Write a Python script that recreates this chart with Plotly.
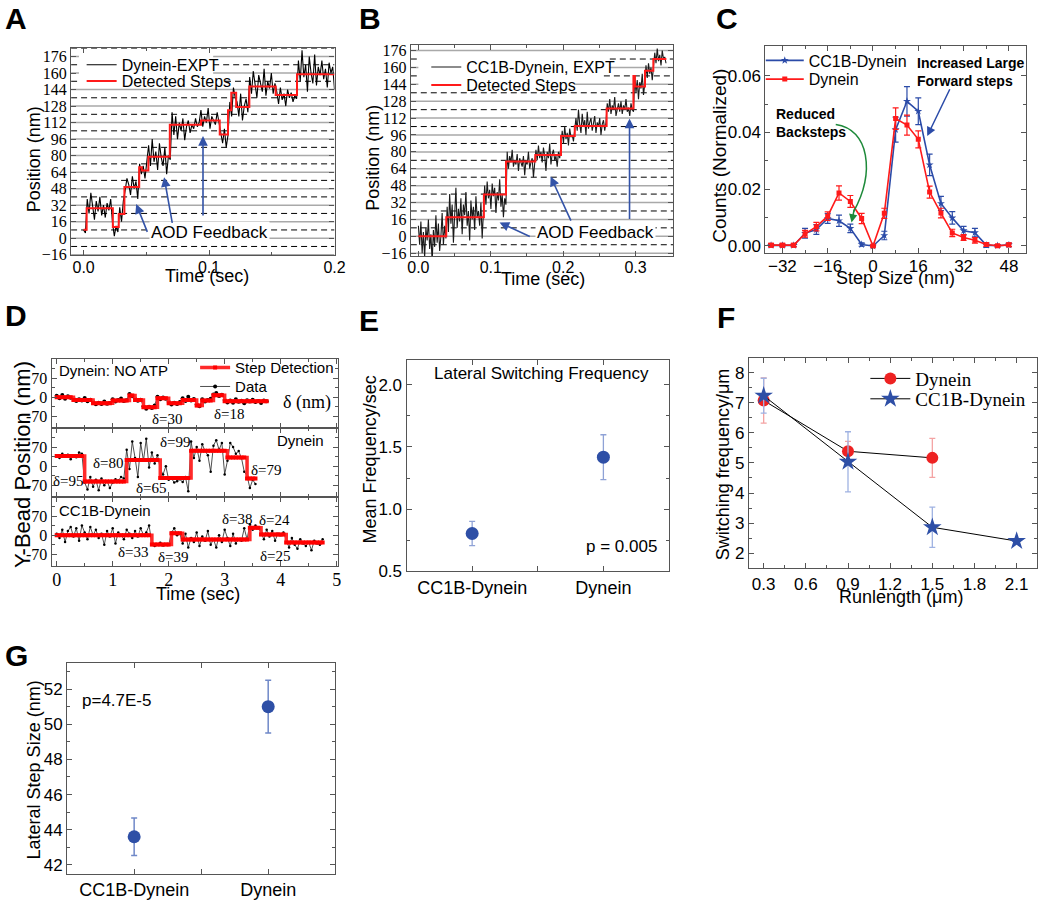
import bisect
import numpy as np
import plotly.graph_objects as go

W, H = 1050, 909
SANS = "Liberation Sans"
SERIF = "Liberation Serif"
RED = "#FF1A1A"
BLUE = "#2B4BA8"
ARROW_BLUE = "#3353A8"
GREEN = "#1E8A3A"

# ---------------- Panel A : Dynein trace ----------------
A_pos = [8, 5,
         38, 24, 44, 30, 18, 36, 26, 40, 22, 32, 20, 34, 27, 38,
         15, 2, 12, 6,
         30, 16, 36,
         46, 58, 52, 42, 60, 48, 55, 38,
         72, 62, 70, 58, 74,
         90, 70, 96, 74, 84, 66, 92, 78, 70, 88, 62, 80, 76,
         122, 100, 118, 96, 112, 104, 116, 95, 108, 114, 102, 110, 106, 116, 108, 112,
         124, 108, 118, 112, 126, 106, 118, 114, 110, 122, 112,
         102, 92, 106, 88, 100,
         132, 118,
         146, 136,
         132, 118, 140, 114, 128, 135, 122,
         156, 140, 162, 146, 136, 158, 150, 142, 164, 138, 152, 145, 160, 140, 150,
         142, 130, 146, 134, 140, 128, 144, 136, 141, 132, 138, 135,
         172, 152, 182, 156, 168, 142, 176, 160, 150, 178, 148, 166, 158, 172, 154, 164, 146, 170, 160, 166, 144]
A_t_end = 0.2
A_step_t = [0, 0.0024, 0.0233, 0.028, 0.0325, 0.0443, 0.0464, 0.0516, 0.0687, 0.0936,
            0.1085, 0.1151, 0.1177, 0.1216, 0.1321, 0.1531, 0.1701, 0.2]
A_step_v = [8.3, 29, 10.8, 23.5, 49.6, 68.7, 65.5, 78.9, 110, 114, 100.5, 124, 141, 127,
            147, 138.7, 158.7]

# ---------------- Panel B : CC1B-Dynein trace ----------------
B_pos = [10, -8, 14, -16, 4, -20, 8, -4, 16, -12, 2, -24, 6, -10, 20, -6, 12, -14, 0, 22, -8, 10, -2,
         28, 4, 40, 12, 30, -6, 22, 46, 8, 26, 14, 36, 2, 30, 20, 42, 10, 24, -4, 34, 16, 28, 6, 38, 18, 24, 10, 32, -2, 22,
         48, 30, 52, 36, 44, 26, 50, 38, 46, 22, 42, 34, 54, 28, 40, 18, 36, 30,
         80, 64, 76, 70, 82, 66, 72, 68, 78, 62, 74, 70, 66, 76, 58, 72, 68, 80, 64, 70, 74, 56, 72,
         82, 72, 86, 74, 80, 70, 84, 76, 62, 80, 74, 88, 68, 78, 82, 72, 76, 66, 80, 74, 84,
         100, 88, 104, 92, 98, 86, 102, 94, 96, 90, 100,
         112, 100, 120, 106, 98, 116, 104, 110, 96, 118, 102, 108, 112, 100, 106, 114, 98, 108, 104, 112, 96, 106, 110, 100, 108,
         126, 118, 130, 116, 124, 120, 132, 114, 122, 126, 118, 128, 116, 124, 120, 130, 118, 122, 114, 126, 120, 118,
         152, 136, 148, 130, 146, 140, 154, 134, 144,
         162, 150, 164, 154, 160, 148, 158,
         174, 164, 178, 166, 172, 162, 176, 168, 170, 164]
B_t_end = 0.342
B_step_t = [0, 0.0385, 0.0905, 0.121, 0.1615, 0.197, 0.216, 0.26, 0.297, 0.299, 0.313, 0.3245, 0.3425]
B_step_v = [0, 18, 39.6, 71, 77, 95, 104.5, 121, 152, 142, 157, 168]

# ---------------- Panel C : step size histogram ----------------
C_step = [-36, -32, -28, -24, -20, -16, -12, -8, -4, 0, 4, 8, 12, 16, 20, 24, 28, 32, 36, 40, 44, 48]
C_dyn = [0.0003, 0.0003, 0.0003, 0.0043, 0.0068, 0.0105, 0.0187, 0.0157, 0.0097, 0.0, 0.0115,
         0.0449, 0.0426, 0.0376, 0.019, 0.0116, 0.0046, 0.003, 0.002, 0.0005, 0.0001, 0.0004]
C_dyn_err = [0.0006, 0.0006, 0.0006, 0.0012, 0.0015, 0.0015, 0.0025, 0.0021, 0.0018, 0.0003, 0.0018,
             0.0038, 0.0035, 0.003, 0.0021, 0.0017, 0.0013, 0.001, 0.001, 0.0006, 0.0004, 0.0006]
C_cc1b = [0.0002, 0.0002, 0.0002, 0.0045, 0.0058, 0.0097, 0.0089, 0.0062, 0.0005, 0.0, 0.0037,
          0.041, 0.051, 0.0475, 0.0286, 0.015, 0.0099, 0.0054, 0.0047, 0.0003, 0.0001, 0.0004]
C_cc1b_err = [0.0004, 0.0004, 0.0004, 0.0017, 0.0017, 0.0017, 0.002, 0.0015, 0.0006, 0.0003, 0.0015,
              0.0044, 0.0052, 0.0047, 0.0038, 0.0025, 0.0022, 0.0015, 0.0015, 0.0008, 0.0004, 0.0006]

# ---------------- Panel D : lateral traces ----------------
D_dt = 0.05
D1_pos = [5, -4, 8, -6, 3, -2, -5, -14, -8, -12, -3, -15, -9, -18, -26, -20, -25, -16, -24, -21,
          -8, -16, -10, -5, -14, -11, 12, 3, -6, -13, -9, -33, -42, -35, -40, -30, 2, -8, -1, -6,
          -17, -27, -20, -25, -18, -4, -14, 2, -12, -7, -27, -33, -8, -16, -10, -6, 10, 15, 4, 9,
          -10, -19, -12, -20, -8, -17, -13, -22, -11, -16, -9, -18, -14, -21, -12, -15]
D1_edges = [0, 0.276, 0.628, 0.98, 1.273, 1.39, 1.508, 1.80, 1.98, 2.21, 2.48, 2.59, 2.80, 2.975, 3.77]
D1_levels = [0, -10, -22, -12, 6, -10, -37, -4, -22, -10, -30, -12, 7, -15]

D2_pos = [40, 30, 45, 35, 42, 25, 38, 33, 50, 45, -60, -85, -40, -75, -50, -88, -45, -70, -55, -80,
          -60, -48, -52, -40, -45, 60, -10, 90, 30, -40, 85, 20, 100, -5, 50, 10, 40, -10, -30, 0,
          -50, -45, -60, -55, -48, -58, -40, -92, 90, 30, 70, 20, 80, 55, 40, -20, 75, 95, 60, 85,
          -30, 20, 85, 70, 45, 55, 30, -20, -35, -80, -50, -65]
D2_edges = [0, 0.481, 1.227, 1.831, 2.359, 3.005, 3.374, 3.56]
D2_levels = [37, -56, 23, -43, 56, 32, -45]

D3_pos = [5, -10, 20, -25, 15, 30, -5, 25, -20, 35, 10, -15, 30, 0, 20, -10, 5, -35, 15, -5,
          25, -30, 10, 0, -15, 20, 5, -10, 15, -5, 25, 0, 10, 35, -30, -40, -35, -28, -38, -32,
          -36, 10, 25, 0, 5, -30, 5, -45, -10, -25, 10, -40, -5, -20, 15, -35, -15, -45, 0, -25,
          20, -10, -40, 5, -30, -15, -20, 25, -15, 40, 20, 35, 25, 10, -15, 20, -5, 15, -20, 5,
          0, 10, -20, -45, -10, -35, -50, -15, -30, -40, -25, -55, -20, -30, -35, -15]
D3_edges = [0, 1.667, 2.025, 2.212, 3.415, 3.609, 4.10, 4.77]
D3_levels = [0, -34, 7, -16, 27, 2, -27]

# ---------------- Panel E : switching frequency ----------------
E_groups = ["CC1B-Dynein", "Dynein"]
E_mean = [0.805, 1.418]
E_err = [0.097, 0.18]

# ---------------- Panel F : switching vs runlength ----------------
F_run_dyn = [0.3, 0.9, 1.5]
F_dyn = [7.08, 5.39, 5.17]
F_dyn_err = [0.75, 0.33, 0.65]
F_run_cc1b = [0.3, 0.9, 1.5, 2.1]
F_cc1b = [7.24, 5.04, 2.86, 2.40]
F_cc1b_err = [0.58, 1.0, 0.67, 0.05]

# ---------------- Panel G : lateral step size ----------------
G_groups = ["CC1B-Dynein", "Dynein"]
G_mean = [43.6, 51.0]
G_err = [1.07, 1.5]

# axis ranges
A_xr, A_yr = [-0.01, 0.2], [-16.6, 183.9]
B_xr, B_yr = [-0.0105, 0.352], [-18.7, 181.2]
grid16 = list(range(-16, 177, 16))
grid8 = list(range(-8, 185, 16))


# ================= helpers =================
def X(px):
    return px / W


def Y(py):
    return 1 - py / H


def dom_x(x0, x1):
    return [x0 / W, x1 / W]


def dom_y(y0, y1):
    return [1 - y1 / H, 1 - y0 / H]


def step_fit(times, edges, levels):
    out = []
    for t in times:
        i = bisect.bisect_right(edges, t + 1e-9) - 1
        i = max(0, min(i, len(levels) - 1))
        out.append(levels[i])
    return out


def axis(**kw):
    base = dict(showline=True, linecolor="#555", linewidth=1.2, mirror="ticks",
                ticks="inside", ticklen=5, tickwidth=1, tickcolor="#555",
                zeroline=False, showgrid=False, fixedrange=True)
    base.update(kw)
    return base


fig = go.Figure()

# ---- A traces
A_t = np.linspace(0, A_t_end, len(A_pos))
fig.add_trace(go.Scatter(x=A_t, y=A_pos, mode="lines", line=dict(color="black", width=1.1),
                         name="Dynein-EXPT", legend="legend", xaxis="x", yaxis="y"))
fig.add_trace(go.Scatter(x=A_step_t, y=A_step_v + [A_step_v[-1]], mode="lines", line_shape="hv",
                         line=dict(color=RED, width=2), name="Detected Steps", legend="legend2",
                         xaxis="x", yaxis="y"))
# ---- B traces
B_t = np.linspace(0, B_t_end, len(B_pos))
fig.add_trace(go.Scatter(x=B_t, y=B_pos, mode="lines", line=dict(color="#1a1a1a", width=1.1),
                         name="CC1B-Dynein, EXPT", legend="legend3", xaxis="x2", yaxis="y2"))
fig.add_trace(go.Scatter(x=B_step_t, y=B_step_v + [B_step_v[-1]], mode="lines", line_shape="hv",
                         line=dict(color=RED, width=2), name="Detected Steps", legend="legend4",
                         xaxis="x2", yaxis="y2"))
# ---- C traces
fig.add_trace(go.Scatter(x=C_step, y=C_cc1b, mode="lines+markers",
                         line=dict(color=BLUE, width=1.6), marker=dict(symbol="star", size=6, color=BLUE),
                         error_y=dict(type="data", array=C_cc1b_err, color=BLUE, thickness=1.2, width=3),
                         name="CC1B-Dynein", legend="legend5", xaxis="x3", yaxis="y3"))
fig.add_trace(go.Scatter(x=C_step, y=C_dyn, mode="lines+markers",
                         line=dict(color=RED, width=1.6), marker=dict(symbol="square", size=5, color=RED),
                         error_y=dict(type="data", array=C_dyn_err, color=RED, thickness=1.2, width=3),
                         name="Dynein", legend="legend6", xaxis="x3", yaxis="y3"))
# ---- D traces
for k, (pos, edges, levels, xa, ya) in enumerate([
        (D1_pos, D1_edges, D1_levels, "x4", "y4"),
        (D2_pos, D2_edges, D2_levels, "x5", "y5"),
        (D3_pos, D3_edges, D3_levels, "x6", "y6")]):
    t = np.round(np.arange(len(pos)) * D_dt, 4)
    fit = step_fit(t, edges, levels)
    fig.add_trace(go.Scatter(x=t, y=pos, mode="lines+markers",
                             line=dict(color="#222", width=0.8),
                             marker=dict(size=4 if k == 0 else 2.5, color="black"),
                             name="Data", legend="legend8", showlegend=(k == 0),
                             xaxis=xa, yaxis=ya))
    fig.add_trace(go.Scatter(x=t, y=fit, mode="lines+markers", line_shape="hv",
                             line=dict(color="#FF2A2A", width=3.5),
                             marker=dict(symbol="square", size=4, color="#FF0000"),
                             name="Step Detection", legend="legend7", showlegend=(k == 0),
                             xaxis=xa, yaxis=ya))
# ---- E
fig.add_trace(go.Scatter(x=[0, 1], y=E_mean, mode="markers",
                         marker=dict(size=13, color="#2E4FA6"),
                         error_y=dict(type="data", array=E_err, color="#8FA2D6", thickness=1.3, width=3),
                         showlegend=False, xaxis="x7", yaxis="y7"))
# ---- F
fig.add_trace(go.Scatter(x=F_run_dyn, y=F_dyn, mode="lines+markers",
                         line=dict(color="black", width=1),
                         marker=dict(symbol="circle", size=12, color="#EE2222"),
                         error_y=dict(type="data", array=F_dyn_err, color="#F4A3A3", thickness=1.3, width=3),
                         name="Dynein", legend="legend9", xaxis="x8", yaxis="y8"))
fig.add_trace(go.Scatter(x=F_run_cc1b, y=F_cc1b, mode="lines+markers",
                         line=dict(color="black", width=1),
                         marker=dict(symbol="star", size=14, color="#2E4FA6"),
                         error_y=dict(type="data", array=F_cc1b_err, color="#9FB2E2", thickness=1.3, width=3),
                         name="CC1B-Dynein", legend="legend10", xaxis="x8", yaxis="y8"))
# ---- G
fig.add_trace(go.Scatter(x=[0, 1], y=G_mean, mode="markers",
                         marker=dict(size=13, color="#2E4FA6"),
                         error_y=dict(type="data", array=G_err, color="#6F88C8", thickness=1.5, width=3),
                         showlegend=False, xaxis="x9", yaxis="y9"))

# ================= axes =================
tf_serif16 = dict(family=SERIF, size=16, color="black")
tf_sans16 = dict(family=SANS, size=16, color="black")
tf_sans17 = dict(family=SANS, size=17, color="black")

lay = dict(
    xaxis=axis(domain=dom_x(69, 336), range=A_xr, tickvals=[0, 0.1, 0.2],
               ticktext=["0.0", "0.1", "0.2"], tickfont=tf_sans16, anchor="y", ticklabelstandoff=-3,
               minor=dict(tickvals=[0.05, 0.15], ticks="inside", ticklen=3, tickcolor="#555")),
    yaxis=axis(domain=dom_y(46, 256), range=A_yr, tickvals=grid16, tickfont=tf_serif16, anchor="x"),
    xaxis2=axis(domain=dom_x(413.3, 679.3), range=B_xr, tickvals=[0, 0.1, 0.2, 0.3],
                ticktext=["0.0", "0.1", "0.2", "0.3"], tickfont=tf_sans16, anchor="y2", ticklabelstandoff=-3,
                minor=dict(tickvals=[0.05, 0.15, 0.25], ticks="inside", ticklen=3, tickcolor="#555")),
    yaxis2=axis(domain=dom_y(42.7, 256.7), range=B_yr, tickvals=grid16, tickfont=tf_serif16, anchor="x2"),
    xaxis3=axis(domain=dom_x(772.7, 1036.7), range=[-38, 54], tickvals=[-32, -16, 0, 16, 32, 48],
                tickfont=tf_sans17, anchor="y3", ticklabelstandoff=-3,
                minor=dict(tickvals=[-24, -8, 8, 24, 40], ticks="inside", ticklen=3, tickcolor="#555")),
    yaxis3=axis(domain=dom_y(43.3, 254), range=[-0.0026, 0.0706], tickvals=[0, 0.02, 0.04, 0.06],
                ticktext=["0.00", "0.02", "0.04", "0.06"], tickfont=tf_sans17, anchor="x3",
                minor=dict(tickvals=[0.01, 0.03, 0.05], ticks="inside", ticklen=3, tickcolor="#555")),
)
d_rows = [(361, 431), (431, 501), (501, 571)]
for i, (y0, y1) in enumerate(d_rows):
    n = 4 + i
    lay[f"xaxis{n}"] = axis(domain=dom_x(49.3, 339.3), range=[-0.09, 5.02], tickvals=[0, 1, 2, 3, 4, 5],
                            showticklabels=(i == 2), tickfont=dict(family=SERIF, size=18, color="black"),
                            anchor=f"y{n}", ticklabelstandoff=-3,
                            minor=dict(tickvals=[0.5, 1.5, 2.5, 3.5, 4.5], ticks="inside", ticklen=3,
                                       tickcolor="#555"))
    lay[f"yaxis{n}"] = axis(domain=dom_y(y0, y1), range=[-112, 140], tickvals=[-70, 0, 70],
                            ticktext=["-70", "0", "70"], tickfont=dict(family=SERIF, size=16, color="black"),
                            anchor=f"x{n}",
                            minor=dict(tickvals=[-35, 35, 105], ticks="inside", ticklen=3, tickcolor="#555"))
lay["xaxis7"] = axis(domain=dom_x(409, 675), range=[-0.5, 1.5], tickvals=[0, 1], ticktext=E_groups,
                     tickfont=dict(family=SANS, size=18, color="black"), anchor="y7",
                     minor=dict(tickvals=[0.5], ticks="inside", ticklen=5, tickcolor="#555"))
lay["yaxis7"] = axis(domain=dom_y(362, 576.7), range=[0.5, 2.2], tickvals=[0.5, 1.0, 1.5, 2.0],
                     ticktext=["0.5", "1.0", "1.5", "2.0"], tickfont=tf_sans17, anchor="x7",
                     minor=dict(tickvals=[0.75, 1.25, 1.75], ticks="inside", ticklen=3, tickcolor="#555"))
lay["xaxis8"] = axis(domain=dom_x(756, 1048), range=[0.195, 2.245],
                     tickvals=[0.3, 0.6, 0.9, 1.2, 1.5, 1.8, 2.1],
                     ticktext=["0.3", "0.6", "0.9", "1.2", "1.5", "1.8", "2.1"], tickfont=tf_sans17,
                     anchor="y8",
                     minor=dict(tickvals=[0.45, 0.75, 1.05, 1.35, 1.65, 1.95], ticks="inside", ticklen=3,
                                tickcolor="#555"))
lay["yaxis8"] = axis(domain=dom_y(360, 573.3), range=[1.5, 8.5], tickvals=[2, 3, 4, 5, 6, 7, 8],
                     tickfont=tf_sans17, anchor="x8",
                     minor=dict(tickvals=[2.5, 3.5, 4.5, 5.5, 6.5, 7.5], ticks="inside", ticklen=3,
                                tickcolor="#555"))
lay["xaxis9"] = axis(domain=dom_x(65, 336.7), range=[-0.5, 1.5], tickvals=[0, 1], ticktext=G_groups,
                     tickfont=dict(family=SANS, size=18, color="black"), anchor="y9",
                     minor=dict(tickvals=[0.5], ticks="inside", ticklen=5, tickcolor="#555"))
lay["yaxis9"] = axis(domain=dom_y(669.3, 883.3), range=[41.5, 53.5], tickvals=[42, 44, 46, 48, 50, 52],
                     tickfont=tf_sans17, anchor="x9",
                     minor=dict(tickvals=[43, 45, 47, 49, 51, 53], ticks="inside", ticklen=3, tickcolor="#555"))


# ================= legends =================
def leg(text_x, cy, size, family=SANS, iw=30):
    return dict(x=(text_x - iw - 12) / W, y=1 - cy / H, xanchor="left", yanchor="middle",
                bgcolor="rgba(0,0,0,0)", borderwidth=0, itemwidth=iw,
                font=dict(family=family, size=size, color="black"))


lay["legend"] = leg(121.7, 62.7, 16)
lay["legend2"] = leg(121.7, 79.3, 16)
lay["legend3"] = leg(471, 65, 16)
lay["legend4"] = leg(471, 83.3, 16)
lay["legend5"] = leg(818, 58.3, 16, iw=38)
lay["legend6"] = leg(818, 77.3, 16, iw=38)
lay["legend7"] = leg(236.7, 370, 15)
lay["legend8"] = leg(236.7, 389.3, 15)
lay["legend9"] = leg(926, 381, 19, SERIF, iw=40)
lay["legend10"] = leg(926, 401.7, 19, SERIF, iw=40)

# ================= annotations =================
ann = []


def text(t, x, y, size, family=SANS, angle=0, xanchor="center", bg=None, align="center"):
    d = dict(text=t, x=X(x), y=Y(y), xref="paper", yref="paper", showarrow=False,
             xanchor=xanchor, yanchor="middle", textangle=angle, align=align,
             font=dict(family=family, size=size, color="black"))
    if bg:
        d["bgcolor"] = bg
    ann.append(d)


def arrow(tip, tail, color=ARROW_BLUE, width=1.6, size=1.2):
    ann.append(dict(text="", x=X(tip[0]), y=Y(tip[1]), xref="paper", yref="paper",
                    ax=tail[0] - tip[0], ay=tail[1] - tip[1], showarrow=True, arrowhead=2,
                    arrowsize=size, arrowwidth=width, arrowcolor=color, standoff=0))


# panel letters
for L, x, y in [("A", 13.5, 16), ("B", 371.5, 16), ("C", 734, 16), ("D", 13.5, 317),
                ("E", 371, 322), ("F", 732.5, 319), ("G", 13.5, 662)]:
    text(f"<b>{L}</b>", x, y, 30)

# A
text("Position (nm)", 31.7, 158.3, 18, angle=-90)
text("Time (sec)", 206.7, 277, 18)
text("AOD Feedback", 209, 233, 17, bg="white")
arrow((135, 204), (146.7, 233.3))
arrow((163.3, 176.7), (171.7, 224))
arrow((202.7, 135), (202.7, 216))
# B
text("Position (nm)", 375, 157, 18, angle=-90)
text("Time (sec)", 547.5, 280, 18)
text("AOD Feedback", 601, 233.3, 17, bg="white")
arrow((503.3, 222.7), (535, 237.3))
arrow((555, 176), (576, 221.7))
arrow((635, 117.3), (635, 219.3))
# C
text("Counts (Normalized)", 726.7, 155, 19, angle=-90)
text("Step Size (nm)", 905, 278.5, 18)
text("<b>Reduced<br>Backsteps</b>", 781.7, 121.3, 14, xanchor="left", align="left")
text("<b>Increased Large<br>Forward steps</b>", 924, 70.5, 14, xanchor="left", align="left")
arrow((936.7, 135), (960, 86.7), color=BLUE, width=1.5)
arrow((860, 222.7), (863, 208), color=GREEN, width=1.5, size=1.1)
# D
text("Y-Bead Position (nm)", 20, 468, 22, angle=-90)
text("Time (sec)", 198, 600, 18)
text("Dynein: NO ATP", 111.7, 372.7, 15)
text("δ (nm)", 308.3, 405, 18, family=SERIF)
text("Dynein", 301.7, 444, 15)
text("CC1B-Dynein", 103, 515, 15)
for s, x, y in [("δ=30", 166.7, 421.7), ("δ=18", 230, 416.7), ("δ=80", 106.7, 466.7),
                ("δ=95", 66.7, 485), ("δ=65", 150, 492), ("δ=99", 175, 445.7), ("δ=79", 266.7, 473.3),
                ("δ=33", 132.7, 557.3), ("δ=39", 173.3, 561.7), ("δ=38", 237.7, 523.3),
                ("δ=24", 275, 524), ("δ=25", 276, 560.7)]:
    text(s, x, y, 15, family=SERIF)
# E
text("Mean Frequency/sec", 371.7, 463.3, 18, angle=-90)
text("Lateral Switching Frequency", 545.8, 376, 17)
text("p = 0.005", 626.7, 551.7, 17)
# F
text("Switching frequency/μm", 729.3, 468.3, 18, angle=-90)
text("Runlength (μm)", 910, 603, 18)
# G
text("Lateral Step Size (nm)", 31.7, 778.3, 18, angle=-90)
text("p=4.7E-5", 115, 707.3, 17)


# ================= shapes: reference grid lines (gapped behind the legends) =================
def grid_shapes(xa, ya, xr, xd, gaps):
    out = []

    def px2x(p):
        return xr[0] + (p - xd[0]) / (xd[1] - xd[0]) * (xr[1] - xr[0])

    for v in grid16 + grid8:
        if v % 16 == 0:
            style = dict(color="#A9A9A9", width=1.5)
        else:
            style = dict(color="black", width=1, dash="6px,4px")
        segs = [(xr[0], xr[1])]
        if v in gaps:
            g0, g1 = gaps[v]
            segs = [(xr[0], px2x(g0)), (px2x(g1), xr[1])]
        for a, b in segs:
            out.append(dict(type="line", xref=xa, yref=ya, x0=a, x1=b, y0=v, y1=v,
                            line=style, layer="below"))
    return out


shapes = []
shapes += grid_shapes("x", "y", A_xr, (69, 336), {176: (77, 213), 168: (77, 213), 160: (77, 213),
                                                  152: (77, 225)})
shapes += grid_shapes("x2", "y2", B_xr, (413.3, 679.3), {168: (421, 615), 160: (421, 615),
                                                         152: (421, 609), 144: (421, 579)})


def P(x, y):
    return f"{X(x):.5f},{Y(y):.5f}"


shapes.append(dict(type="path", xref="paper", yref="paper",
                   path=f"M{P(844, 123.3)} C{P(878, 128)} {P(884, 172)} {P(862, 212)}",
                   line=dict(color=GREEN, width=1.5)))

lay.update(dict(width=W, height=H, margin=dict(l=0, r=0, t=0, b=0), paper_bgcolor="white",
                plot_bgcolor="white", font=dict(family=SANS, color="black"),
                annotations=ann, shapes=shapes, showlegend=True))
fig.update_layout(**lay)
fig.write_html("out.html", config={"displayModeBar": False},
               post_script="document.body.style.margin='0';document.body.style.padding='0';"
                           "document.body.style.overflow='hidden';")
